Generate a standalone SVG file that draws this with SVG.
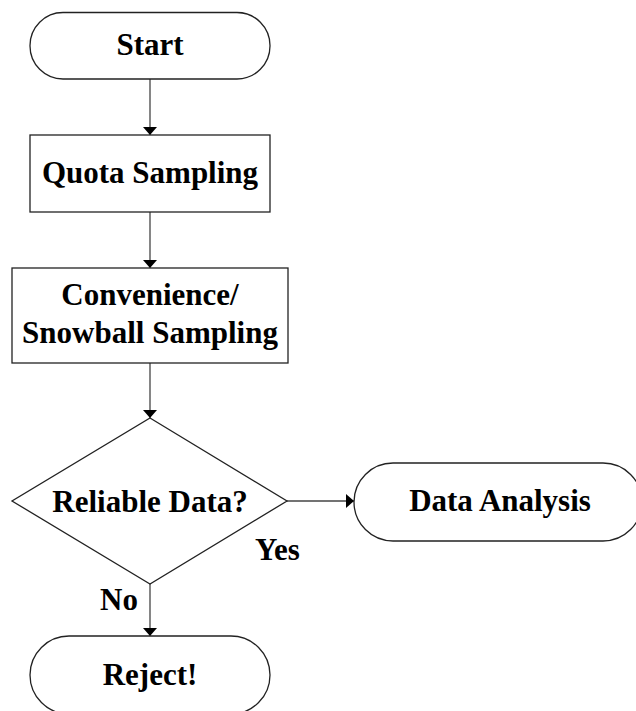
<svg xmlns="http://www.w3.org/2000/svg" width="636" height="711" viewBox="0 0 636 711">
<defs>
<style>
.shape{fill:#fff;stroke:#222;stroke-width:1.3}
.t{font-family:"Liberation Serif","Times New Roman",serif;font-weight:bold;font-size:31px;fill:#000;text-anchor:middle}
.l{font-family:"Liberation Serif","Times New Roman",serif;font-weight:bold;font-size:31px;fill:#000}
.c{fill:none;stroke:#444;stroke-width:1.3}
</style>
<marker id="ah" markerWidth="8" markerHeight="14" refX="8" refY="7" orient="auto" markerUnits="userSpaceOnUse">
<path d="M0,0 L8,7 L0,14 Z" fill="#000"/>
</marker>
</defs>
<rect width="636" height="711" fill="#fff"/>
<g id="connectors">
<line class="c" x1="150" y1="79" x2="150" y2="135" marker-end="url(#ah)"/>
<line class="c" x1="150" y1="212" x2="150" y2="268" marker-end="url(#ah)"/>
<line class="c" x1="150" y1="363" x2="150" y2="418" marker-end="url(#ah)"/>
<line class="c" x1="287" y1="501" x2="354" y2="501" marker-end="url(#ah)"/>
<line class="c" x1="150" y1="584" x2="150" y2="636" marker-end="url(#ah)"/>
</g>
<g id="start">
<rect class="shape" x="30" y="12.5" width="240" height="66.5" rx="33" ry="33"/>
<text class="t" x="150" y="55">Start</text>
</g>
<g id="quota">
<rect class="shape" x="30" y="135" width="240" height="77"/>
<text class="t" x="150" y="183">Quota Sampling</text>
</g>
<g id="convenience">
<rect class="shape" x="12" y="268" width="276" height="95"/>
<text class="t" x="150" y="305">Convenience/</text>
<text class="t" x="150" y="343">Snowball Sampling</text>
</g>
<g id="decision">
<polygon class="shape" points="150,418 287,501 150,584 12,501"/>
<text class="t" x="150" y="512">Reliable Data?</text>
</g>
<g id="analysis">
<rect class="shape" x="354" y="463" width="288" height="78" rx="39" ry="39"/>
<text class="t" x="500" y="511">Data Analysis</text>
</g>
<g id="reject">
<rect class="shape" x="30" y="636" width="240" height="78" rx="39" ry="39"/>
<text class="t" x="150" y="685">Reject!</text>
</g>
<g id="labels">
<text class="l" x="255" y="560">Yes</text>
<text class="l" x="100" y="610">No</text>
</g>
</svg>
